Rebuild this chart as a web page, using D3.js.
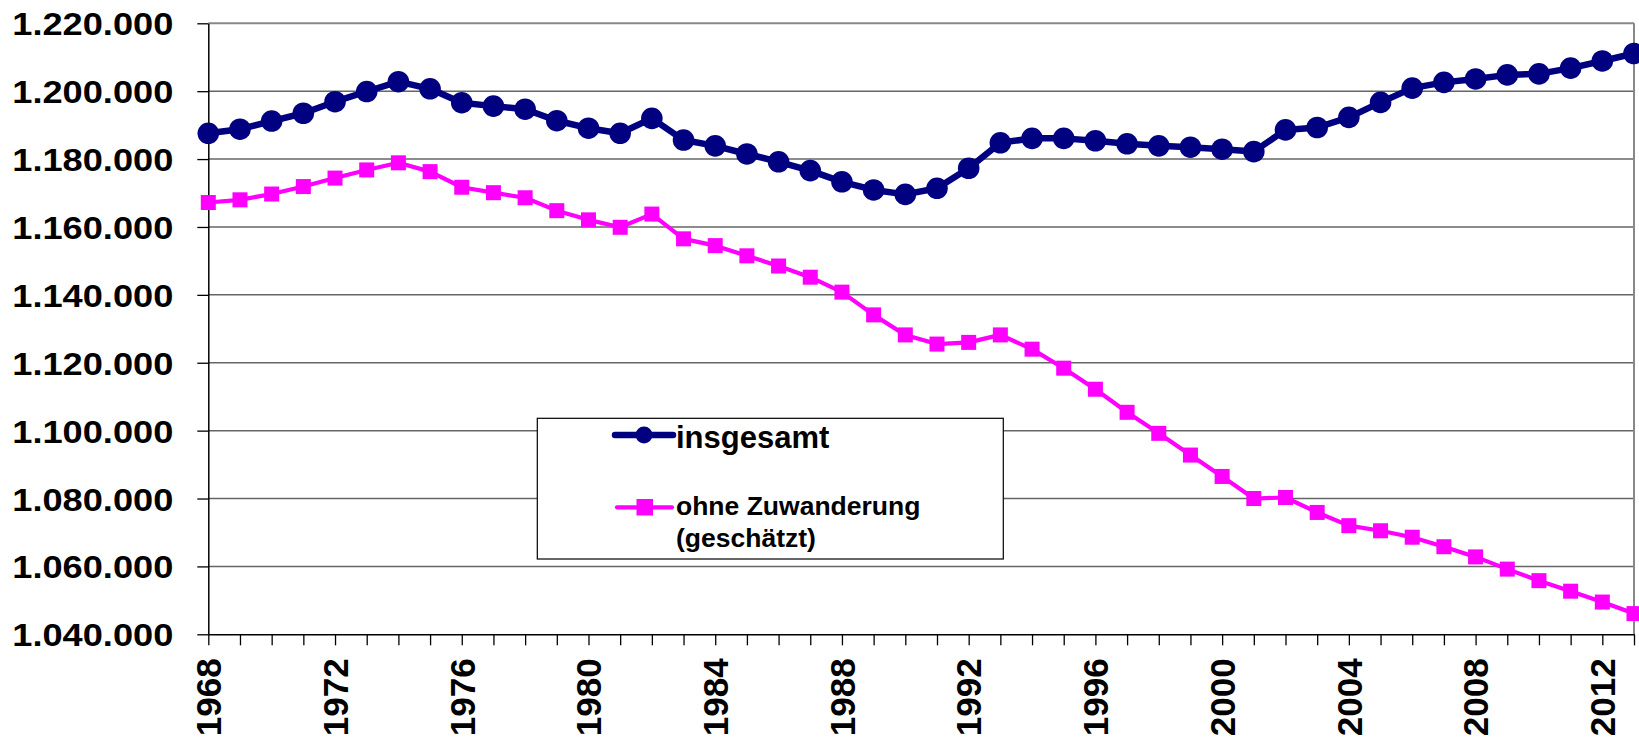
<!DOCTYPE html>
<html>
<head>
<meta charset="utf-8">
<script src="https://cdn.jsdelivr.net/npm/d3@7"></script>
<style>
  html, body { margin: 0; padding: 0; background: #fff; }
  svg { display: block; }
  text { font-family: "Liberation Sans", Arial, sans-serif; font-weight: bold; fill: #000; }
</style>
</head>
<body>
<svg id="chart" width="1639" height="739"></svg>
<script>
// ---- data ----
const years = d3.range(1968, 2014);
const insgesamt = [
  1187600, 1188800, 1191200, 1193500, 1196900, 1199900, 1202800, 1200700, 1196600, 1195600,
  1194700, 1191300, 1189100, 1187600, 1192000, 1185600, 1183900, 1181500, 1179200, 1176600,
  1173300, 1170900, 1169600, 1171400, 1177300, 1184800, 1186100, 1186100, 1185400, 1184500,
  1183900, 1183500, 1182900, 1182200, 1188600, 1189300, 1192300, 1196700, 1200900, 1202600,
  1203600, 1204800, 1205100, 1206800, 1208900, 1211100
];
const ohneZuwanderung = [
  1167200, 1168000, 1169700, 1171900, 1174400, 1176800, 1178900, 1176300, 1171700, 1170100,
  1168600, 1164800, 1162100, 1159900, 1163800, 1156500, 1154500, 1151500, 1148500, 1145200,
  1140800, 1134100, 1128200, 1125500, 1126000, 1128200, 1124000, 1118400, 1112200, 1105400,
  1099200, 1092800, 1086500, 1080000, 1080300, 1075900, 1072000, 1070500, 1068600, 1065800,
  1062800, 1059200, 1055800, 1052700, 1049500, 1046100
];
const seriesNames = ["insgesamt", "ohne Zuwanderung", "(geschätzt)"];
const yTicks = [1040000, 1060000, 1080000, 1100000, 1120000, 1140000, 1160000, 1180000, 1200000, 1220000];
const yearLabels = [1968, 1972, 1976, 1980, 1984, 1988, 1992, 1996, 2000, 2004, 2008, 2012];

// ---- layout ----
const plotL = 208.3, plotR = 1634, plotT = 23.3, plotB = 634.3;
const svg = d3.select("#chart");

const x = d3.scaleLinear().domain([1968, 2013]).range([plotL, plotR]);
const y = d3.scaleLinear().domain([1040000, 1220000]).range([plotB, plotT]);

const de = d3.formatLocale({decimal: ",", thousands: ".", grouping: [3], currency: ["", " €"]});
const fmt = de.format(",d");

// gridlines
svg.append("g").selectAll("line")
  .data(yTicks.filter(d => d > 1040000))
  .join("line")
  .attr("x1", plotL).attr("x2", plotR)
  .attr("y1", d => y(d)).attr("y2", d => y(d))
  .attr("stroke", d => d === 1220000 ? "#888" : "#666")
  .attr("stroke-width", d => d === 1220000 ? 2 : 1.5);

// right border
svg.append("line")
  .attr("x1", plotR).attr("x2", plotR).attr("y1", plotT).attr("y2", plotB)
  .attr("stroke", "#888").attr("stroke-width", 2);

// y axis
const yAxis = svg.append("g")
  .attr("transform", `translate(${plotL},0)`)
  .call(d3.axisLeft(y).tickValues(yTicks).tickFormat(fmt).tickSize(11).tickSizeOuter(0).tickPadding(24));
yAxis.select(".domain").attr("stroke", "#000").attr("stroke-width", 1.5);
yAxis.selectAll(".tick line").attr("stroke", "#000").attr("stroke-width", 1.3);
yAxis.selectAll(".tick text")
  .attr("font-size", 32)
  .attr("font-family", "Liberation Sans, Arial, sans-serif")
  .attr("font-weight", "bold")
  .attr("fill", "#000")
  .attr("dy", "0.36em")
  .attr("textLength", 161)
  .attr("lengthAdjust", "spacingAndGlyphs");

// x axis
const xAxis = svg.append("g")
  .attr("transform", `translate(0,${plotB})`)
  .call(d3.axisBottom(x).tickValues(years)
        .tickFormat(d => yearLabels.includes(d) ? String(d) : "")
        .tickSize(11).tickSizeOuter(0));
xAxis.select(".domain").attr("stroke", "#000").attr("stroke-width", 1.5);
xAxis.selectAll(".tick line").attr("stroke", "#000").attr("stroke-width", 1.3);
xAxis.selectAll(".tick text")
  .attr("font-size", 35)
  .attr("font-family", "Liberation Sans, Arial, sans-serif")
  .attr("font-weight", "bold")
  .attr("fill", "#000")
  .attr("text-anchor", "end")
  .attr("transform", "rotate(-90)")
  .attr("x", -24)
  .attr("y", 0)
  .attr("dy", "0.35em");

// series
const seriesLine = d3.line().x((d, i) => x(years[i])).y(d => y(d));
svg.append("path").datum(ohneZuwanderung)
  .attr("d", seriesLine).attr("fill", "none")
  .attr("stroke", "#FF00FF").attr("stroke-width", 4.2).attr("stroke-linejoin", "round");
svg.append("g").selectAll("rect").data(ohneZuwanderung).join("rect")
  .attr("x", (d, i) => x(years[i]) - 7.5)
  .attr("y", d => y(d) - 7.5)
  .attr("width", 15).attr("height", 15)
  .attr("fill", "#FF00FF");

svg.append("path").datum(insgesamt)
  .attr("d", seriesLine).attr("fill", "none")
  .attr("stroke", "#000080").attr("stroke-width", 6.5).attr("stroke-linejoin", "round");
svg.append("g").selectAll("circle").data(insgesamt).join("circle")
  .attr("cx", (d, i) => x(years[i]))
  .attr("cy", d => y(d))
  .attr("r", 10.8)
  .attr("fill", "#000080");

// legend
const lg = svg.append("g");
lg.append("rect")
  .attr("x", 537.3).attr("y", 418.3).attr("width", 466).attr("height", 140.7)
  .attr("fill", "#fff").attr("stroke", "#000").attr("stroke-width", 1.2);
lg.append("line").attr("x1", 615).attr("x2", 673).attr("y1", 435).attr("y2", 435)
  .attr("stroke", "#000080").attr("stroke-width", 6.5).attr("stroke-linecap", "round");
lg.append("circle").attr("cx", 644).attr("cy", 435).attr("r", 8.5).attr("fill", "#000080");
lg.append("text").attr("x", 676).attr("y", 447.7).attr("font-size", 31).text(seriesNames[0]);

lg.append("line").attr("x1", 617).attr("x2", 672).attr("y1", 507.3).attr("y2", 507.3)
  .attr("stroke", "#FF00FF").attr("stroke-width", 4.2).attr("stroke-linecap", "round");
lg.append("rect").attr("x", 636.5).attr("y", 499).attr("width", 16.5).attr("height", 16.5).attr("fill", "#FF00FF");
lg.append("text").attr("x", 676).attr("y", 515).attr("font-size", 26.5).text(seriesNames[1]);
lg.append("text").attr("x", 676).attr("y", 546.7).attr("font-size", 26.5).text(seriesNames[2]);
</script>
</body>
</html>
